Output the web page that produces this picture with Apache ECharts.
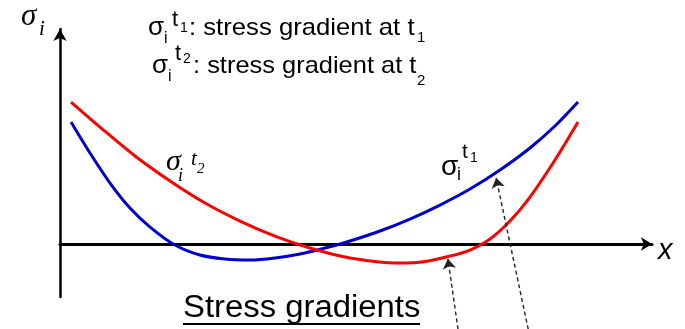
<!DOCTYPE html>
<html>
<head>
<meta charset="utf-8">
<script src="https://cdn.jsdelivr.net/npm/echarts/dist/echarts.min.js"></script>
<style>
  html, body { margin: 0; padding: 0; background: #fff; }
  #chart { width: 685px; height: 329px; }
</style>
</head>
<body>
<div id="chart"></div>
<script>
// Stress profile σi along x at two instants (arbitrary units)
const stressT1 = [
  [0.185, 2.304], [0.504, 1.718], [0.840, 1.152], [1.176, 0.680], [1.513, 0.321],
  [1.933, -0.019], [2.353, -0.208], [2.773, -0.283], [3.193, -0.302], [3.613, -0.264],
  [4.034, -0.189], [4.454, -0.076], [4.874, 0.057], [5.378, 0.246], [5.882, 0.472],
  [6.387, 0.736], [6.891, 1.038], [7.395, 1.397], [7.899, 1.813], [8.319, 2.228],
  [8.706, 2.681]
];
const stressT2 = [
  [0.185, 2.681], [0.672, 2.209], [1.261, 1.662], [1.849, 1.190], [2.437, 0.774],
  [3.025, 0.434], [3.613, 0.151], [4.202, -0.076], [4.790, -0.246], [5.294, -0.330],
  [5.714, -0.359], [6.134, -0.330], [6.555, -0.227], [6.891, -0.113], [7.227, 0.094],
  [7.563, 0.434], [7.899, 0.887], [8.319, 1.586], [8.706, 2.304]
];
// Pointer arrows: tail (below the axis) -> tip on a curve
const arrowTails = [[6.69, -1.61], [7.87, -1.61]];
const arrowTips = [[6.52, -0.28], [7.33, 1.25]];

const legendLine = ': stress gradient at t';
const titleText = 'Stress gradients';

const SANS = '"Liberation Sans", Arial, sans-serif';
const SERIF = '"Liberation Serif", "Times New Roman", serif';

// text piece positioned by its baseline
function piece(str, x, base, size, o) {
  o = o || {};
  return {
    type: 'text', x: x, y: base - 0.35 * size, z: 20,
    scaleX: o.sx || 1,
    rotation: o.rot || 0,
    style: {
      text: str, fill: '#000',
      fontSize: size, fontFamily: o.family || SANS,
      fontStyle: o.italic ? 'italic' : 'normal',
      textAlign: 'left', align: 'left',
      textVerticalAlign: 'middle', verticalAlign: 'middle'
    }
  };
}

const chart = echarts.init(document.getElementById('chart'), null, { renderer: 'canvas' });

const graphics = [
  // axis symbols
  piece('σ', 21, 28, 31, { italic: true, family: SERIF }),
  piece('i', 39, 37, 21, { italic: true, family: SERIF }),
  piece('x', 658, 261, 29, { italic: true }),
  // legend line 1
  piece('σ', 148, 37, 26),
  piece('i', 164, 44, 16),
  piece('t', 172, 28, 22),
  piece('1', 180, 33, 14),
  piece(legendLine, 189, 37, 24, { sx: 1.07 }),
  piece('1', 417, 43, 15),
  // legend line 2
  piece('σ', 152, 75, 26),
  piece('i', 168, 82, 16),
  piece('t', 175, 62, 22),
  piece('2', 183, 64, 14),
  piece(legendLine, 193, 75, 24, { sx: 1.06 }),
  piece('2', 417, 86, 15),
  // curve labels
  piece('σ', 166, 173, 30, { italic: true, family: SERIF }),
  piece('i', 178, 183, 18, { italic: true, family: SERIF }),
  piece('t', 191, 167, 21, { italic: true, family: SERIF }),
  piece('2', 197, 174, 15, { italic: true, family: SERIF }),
  piece('σ', 441, 177, 28),
  piece('i', 457, 181, 18),
  piece('t', 462, 160, 21),
  piece('1', 470, 163, 14),
  // title with underline
  piece(titleText, 183, 319, 31, { sx: 1.06 }),
  {
    type: 'line', z: 20,
    shape: { x1: 183, y1: 324, x2: 420, y2: 324 },
    style: { stroke: '#000', lineWidth: 2 }
  }
];

chart.setOption({
  animation: false,
  backgroundColor: '#fff',
  grid: { left: 60, right: 33, top: 29, bottom: 32, containLabel: false },
  xAxis: {
    type: 'value', min: 0, max: 9.95,
    axisLine: {
      show: true, onZero: true,
      lineStyle: { color: '#000', width: 3 },
      symbol: ['none', 'arrow'], symbolSize: [10, 11]
    },
    axisTick: { show: false }, axisLabel: { show: false }, splitLine: { show: false }
  },
  yAxis: {
    type: 'value', min: -1, max: 4.06,
    axisLine: {
      show: true, onZero: true,
      lineStyle: { color: '#000', width: 2.5 },
      symbol: ['none', 'arrow'], symbolSize: [10, 12]
    },
    axisTick: { show: false }, axisLabel: { show: false }, splitLine: { show: false }
  },
  series: [
    {
      name: 't1', type: 'line', data: stressT1, smooth: 0.3, symbol: 'none',
      lineStyle: { color: '#0000CC', width: 3 }, z: 3
    },
    {
      name: 't2', type: 'line', data: stressT2, smooth: 0.3, symbol: 'none',
      lineStyle: { color: '#FF0000', width: 3 }, z: 4
    },
    {
      name: 'pointers', type: 'lines', coordinateSystem: 'cartesian2d', clip: false,
      symbol: ['none', 'arrow'], symbolSize: 10, z: 5,
      lineStyle: { color: '#222', width: 1.4, type: [4, 3], opacity: 1 },
      data: arrowTails.map((t, i) => ({ coords: [t, arrowTips[i]] }))
    }
  ],
  graphic: graphics
});
</script>
</body>
</html>
